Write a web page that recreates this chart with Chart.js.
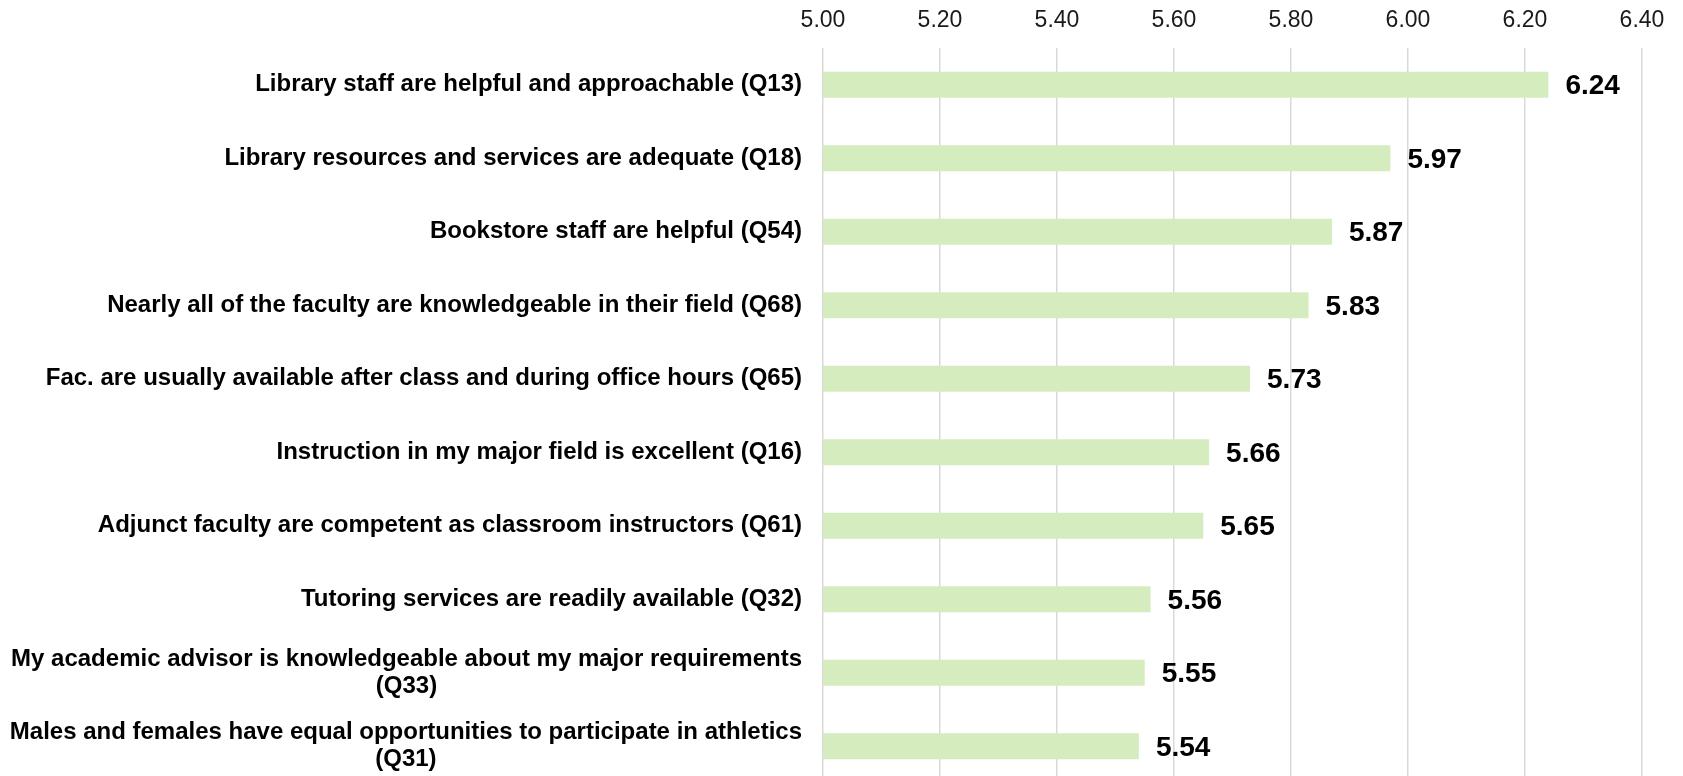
<!DOCTYPE html>
<html>
<head>
<meta charset="utf-8">
<script src="https://cdn.jsdelivr.net/npm/chart.js@4.4.0/dist/chart.umd.min.js"></script>
<style>
    html, body { margin: 0; padding: 0; background: #fff; overflow: hidden; }
    #wrap { width: 1683px; height: 783px; position: relative; }
</style>
</head>
<body>
<div id="wrap"><canvas id="chart"></canvas></div>
<script>
// Categories (long ones are wrapped on two lines like in the original)
const categories = [
    "Library staff are helpful and approachable (Q13)",
    "Library resources and services are adequate (Q18)",
    "Bookstore staff are helpful (Q54)",
    "Nearly all of the faculty are knowledgeable in their field (Q68)",
    "Fac. are usually available after class and during office hours (Q65)",
    "Instruction in my major field is excellent (Q16)",
    "Adjunct faculty are competent as classroom instructors (Q61)",
    "Tutoring services are readily available (Q32)",
    ["My academic advisor is knowledgeable about my major requirements", "(Q33)"],
    ["Males and females have equal opportunities to participate in athletics", "(Q31)"]
];
const scores = [6.24, 5.97, 5.87, 5.83, 5.73, 5.66, 5.65, 5.56, 5.55, 5.54];
const tickValues = [5.00, 5.20, 5.40, 5.60, 5.80, 6.00, 6.20, 6.40];

const FONT = '"Liberation Sans", Arial, sans-serif';

// draws the category labels (right aligned block, lines centred) and the value labels
const labelPlugin = {
    id: "barLabels",
    afterDatasetsDraw(chart) {
        const { ctx, chartArea, scales: { x, y } } = chart;
        ctx.save();
        ctx.fillStyle = "#000";
        ctx.textBaseline = "middle";

        ctx.font = "bold 24px " + FONT;
        ctx.textAlign = "center";
        categories.forEach((lab, i) => {
            const lines = Array.isArray(lab) ? lab : [lab];
            const w = Math.max(...lines.map(l => ctx.measureText(l).width));
            const cx = chartArea.left - 21 - w / 2;
            const cy = y.getPixelForValue(i);
            lines.forEach((l, k) => {
                ctx.fillText(l, cx, cy + (k - (lines.length - 1) / 2) * 27);
            });
        });

        ctx.font = "bold 28px " + FONT;
        ctx.textAlign = "left";
        scores.forEach((v, i) => {
            ctx.fillText(v.toFixed(2), x.getPixelForValue(v) + 17, y.getPixelForValue(i) + 2);
        });
        ctx.restore();
    }
};

new Chart(document.getElementById("chart"), {
    type: "bar",
    data: {
        labels: categories,
        datasets: [{
            data: scores,
            backgroundColor: "#d5ecbe",
            borderWidth: 0,
            barPercentage: 0.354,
            categoryPercentage: 1
        }]
    },
    plugins: [labelPlugin],
    options: {
        indexAxis: "y",
        responsive: true,
        maintainAspectRatio: false,
        animation: false,
        layout: { padding: { left: 823, right: 41, top: 0, bottom: 0 } },
        plugins: {
            legend: { display: false },
            tooltip: { enabled: false }
        },
        scales: {
            x: {
                position: "top",
                min: tickValues[0],
                max: tickValues[tickValues.length - 1],
                afterBuildTicks: scale => {
                    scale.ticks = tickValues.map(v => ({ value: v }));
                },
                afterFit: scale => { scale.height = 48; },
                ticks: {
                    padding: 14,
                    color: "#1a1a1a",
                    font: { family: FONT, size: 23 },
                    callback: v => Number(v).toFixed(2)
                },
                grid: { color: "#d9d9d9", lineWidth: 1.5, drawTicks: false },
                border: { display: false }
            },
            y: {
                display: false
            }
        }
    }
});
</script>
</body>
</html>
